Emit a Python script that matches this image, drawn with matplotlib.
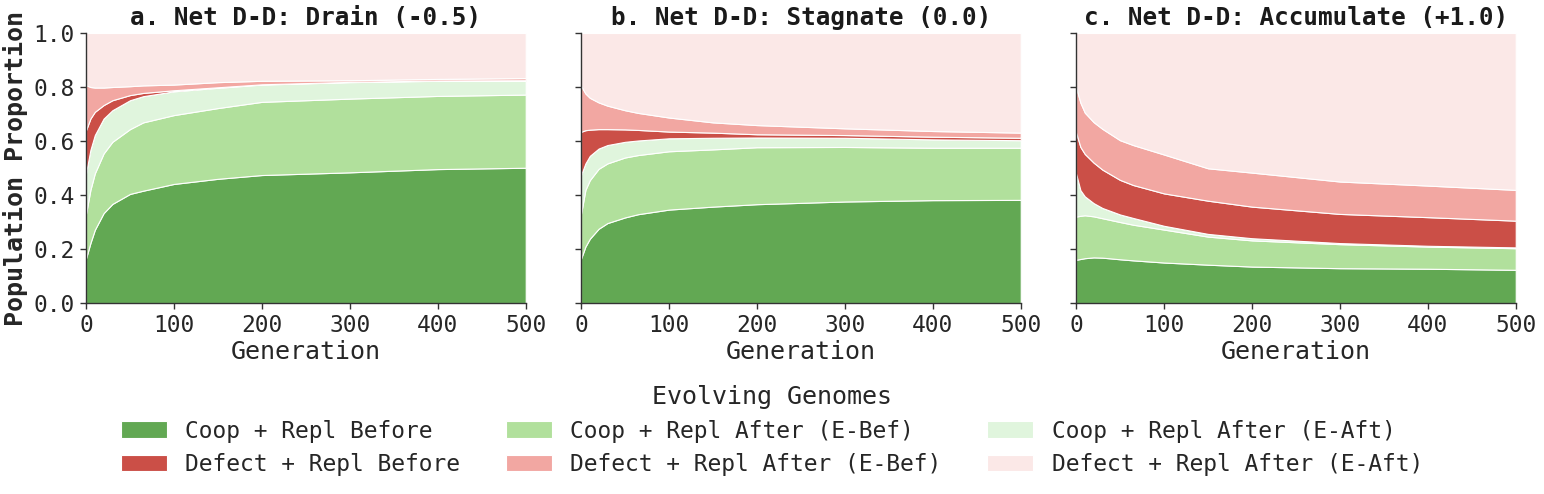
import matplotlib
matplotlib.use("Agg")
import matplotlib.pyplot as plt

plt.rcParams['font.family'] = ['DejaVu Sans Mono', 'DejaVu Sans']

generations = [0, 5, 10, 20, 30, 50, 65, 100, 150, 200, 300, 400, 500]

labels = ["Coop + Repl Before", "Coop + Repl After (E-Bef)", "Coop + Repl After (E-Aft)",
          "Defect + Repl Before", "Defect + Repl After (E-Bef)", "Defect + Repl After (E-Aft)"]
colors = ["#62a853", "#b1e09c", "#e0f5dd", "#cb4f47", "#f2a7a2", "#fbe8e7"]

titles = ["a. Net D-D: Drain (-0.5)", "b. Net D-D: Stagnate (0.0)", "c. Net D-D: Accumulate (+1.0)"]

# Panel a: Drain
a_coop_before = [0.165, 0.222, 0.271, 0.333, 0.367, 0.404, 0.416, 0.441, 0.46, 0.474, 0.484, 0.496, 0.501]
a_coop_ebef   = [0.165, 0.197, 0.209, 0.221, 0.23, 0.24, 0.253, 0.255, 0.262, 0.271, 0.273, 0.271, 0.271]
a_coop_eaft   = [0.15, 0.148, 0.142, 0.129, 0.117, 0.107, 0.097, 0.088, 0.075, 0.064, 0.061, 0.056, 0.051]
a_def_before  = [0.16, 0.116, 0.086, 0.05, 0.037, 0.019, 0.012, 0.004, 0.002, 0.001, 0.001, 0.001, 0.002]
a_def_ebef    = [0.167, 0.117, 0.09, 0.065, 0.049, 0.033, 0.028, 0.021, 0.019, 0.013, 0.006, 0.006, 0.008]
a_def_eaft    = [0.193, 0.2, 0.202, 0.202, 0.2, 0.197, 0.194, 0.191, 0.182, 0.177, 0.175, 0.17, 0.167]

# Panel b: Stagnate
b_coop_before = [0.164, 0.209, 0.238, 0.275, 0.296, 0.317, 0.329, 0.346, 0.357, 0.366, 0.376, 0.381, 0.382]
b_coop_ebef   = [0.166, 0.21, 0.217, 0.222, 0.221, 0.222, 0.219, 0.216, 0.212, 0.211, 0.202, 0.194, 0.193]
b_coop_eaft   = [0.144, 0.098, 0.09, 0.075, 0.068, 0.058, 0.054, 0.048, 0.043, 0.036, 0.034, 0.031, 0.028]
b_def_before  = [0.16, 0.123, 0.097, 0.072, 0.059, 0.046, 0.039, 0.025, 0.019, 0.012, 0.010, 0.010, 0.009]
b_def_ebef    = [0.171, 0.136, 0.118, 0.099, 0.087, 0.071, 0.063, 0.052, 0.038, 0.034, 0.025, 0.021, 0.019]
b_def_eaft    = [0.195, 0.224, 0.24, 0.257, 0.269, 0.286, 0.296, 0.313, 0.331, 0.341, 0.353, 0.363, 0.369]

# Panel c: Accumulate
c_coop_before = [0.16, 0.163, 0.166, 0.169, 0.168, 0.162, 0.158, 0.15, 0.142, 0.135, 0.129, 0.127, 0.123]
c_coop_ebef   = [0.16, 0.16, 0.159, 0.152, 0.146, 0.138, 0.132, 0.122, 0.104, 0.097, 0.089, 0.082, 0.08]
c_coop_eaft   = [0.16, 0.095, 0.07, 0.049, 0.038, 0.028, 0.025, 0.014, 0.01, 0.008, 0.004, 0.003, 0.003]
c_def_before  = [0.152, 0.16, 0.157, 0.15, 0.142, 0.128, 0.122, 0.12, 0.123, 0.117, 0.108, 0.106, 0.099]
c_def_ebef    = [0.168, 0.164, 0.153, 0.15, 0.151, 0.147, 0.148, 0.144, 0.12, 0.126, 0.12, 0.117, 0.114]
c_def_eaft    = [0.2, 0.258, 0.295, 0.33, 0.355, 0.397, 0.415, 0.45, 0.501, 0.517, 0.55, 0.565, 0.581]

panels = [
    [a_coop_before, a_coop_ebef, a_coop_eaft, a_def_before, a_def_ebef, a_def_eaft],
    [b_coop_before, b_coop_ebef, b_coop_eaft, b_def_before, b_def_ebef, b_def_eaft],
    [c_coop_before, c_coop_ebef, c_coop_eaft, c_def_before, c_def_ebef, c_def_eaft],
]

fig = plt.figure(figsize=(15.44, 4.94), dpi=100)
lefts = [0.0557, 0.3763, 0.6969]
axes = []
for i, (left, series, title) in enumerate(zip(lefts, panels, titles)):
    ax = fig.add_axes([left, 0.3866, 0.2848, 0.5466])
    ax.stackplot(generations, *series, colors=colors, labels=labels,
                 edgecolor='white', linewidth=0.8)
    ax.set_xlim(0, 500)
    ax.set_ylim(0, 1)
    ax.set_xticks([0, 100, 200, 300, 400, 500])
    ax.set_yticks([0, 0.2, 0.4, 0.6, 0.8, 1.0])
    ax.set_title(title, fontsize=17.5, fontweight='bold', color='#1a1a1a', pad=6)
    ax.set_xlabel("Generation", fontsize=18, color='#262626', labelpad=2)
    if i == 0:
        ax.set_ylabel("Population Proportion", fontsize=18, fontweight='bold', color='#262626', labelpad=4)
    else:
        ax.set_yticklabels([])
    for s in ['top', 'right']:
        ax.spines[s].set_visible(False)
    for s in ['left', 'bottom']:
        ax.spines[s].set_color('#333333')
        ax.spines[s].set_linewidth(1.0)
    ax.tick_params(axis='both', labelsize=16.5, length=4.5, width=1.0, color='#333333', labelcolor='#262626')
    axes.append(ax)

handles, hlabels = axes[0].get_legend_handles_labels()
order = [0, 3, 1, 4, 2, 5]
leg = fig.legend([handles[k] for k in order], [hlabels[k] for k in order],
                 loc='upper center', bbox_to_anchor=(0.5, 0.262), ncol=3, frameon=False,
                 fontsize=16.5, title="Evolving Genomes", title_fontsize=18,
                 columnspacing=2.0, handlelength=2.0, labelspacing=0.45)
leg.get_title().set_color('#262626')
for t in leg.get_texts():
    t.set_color('#262626')

fig.savefig("out.png", dpi=100)
